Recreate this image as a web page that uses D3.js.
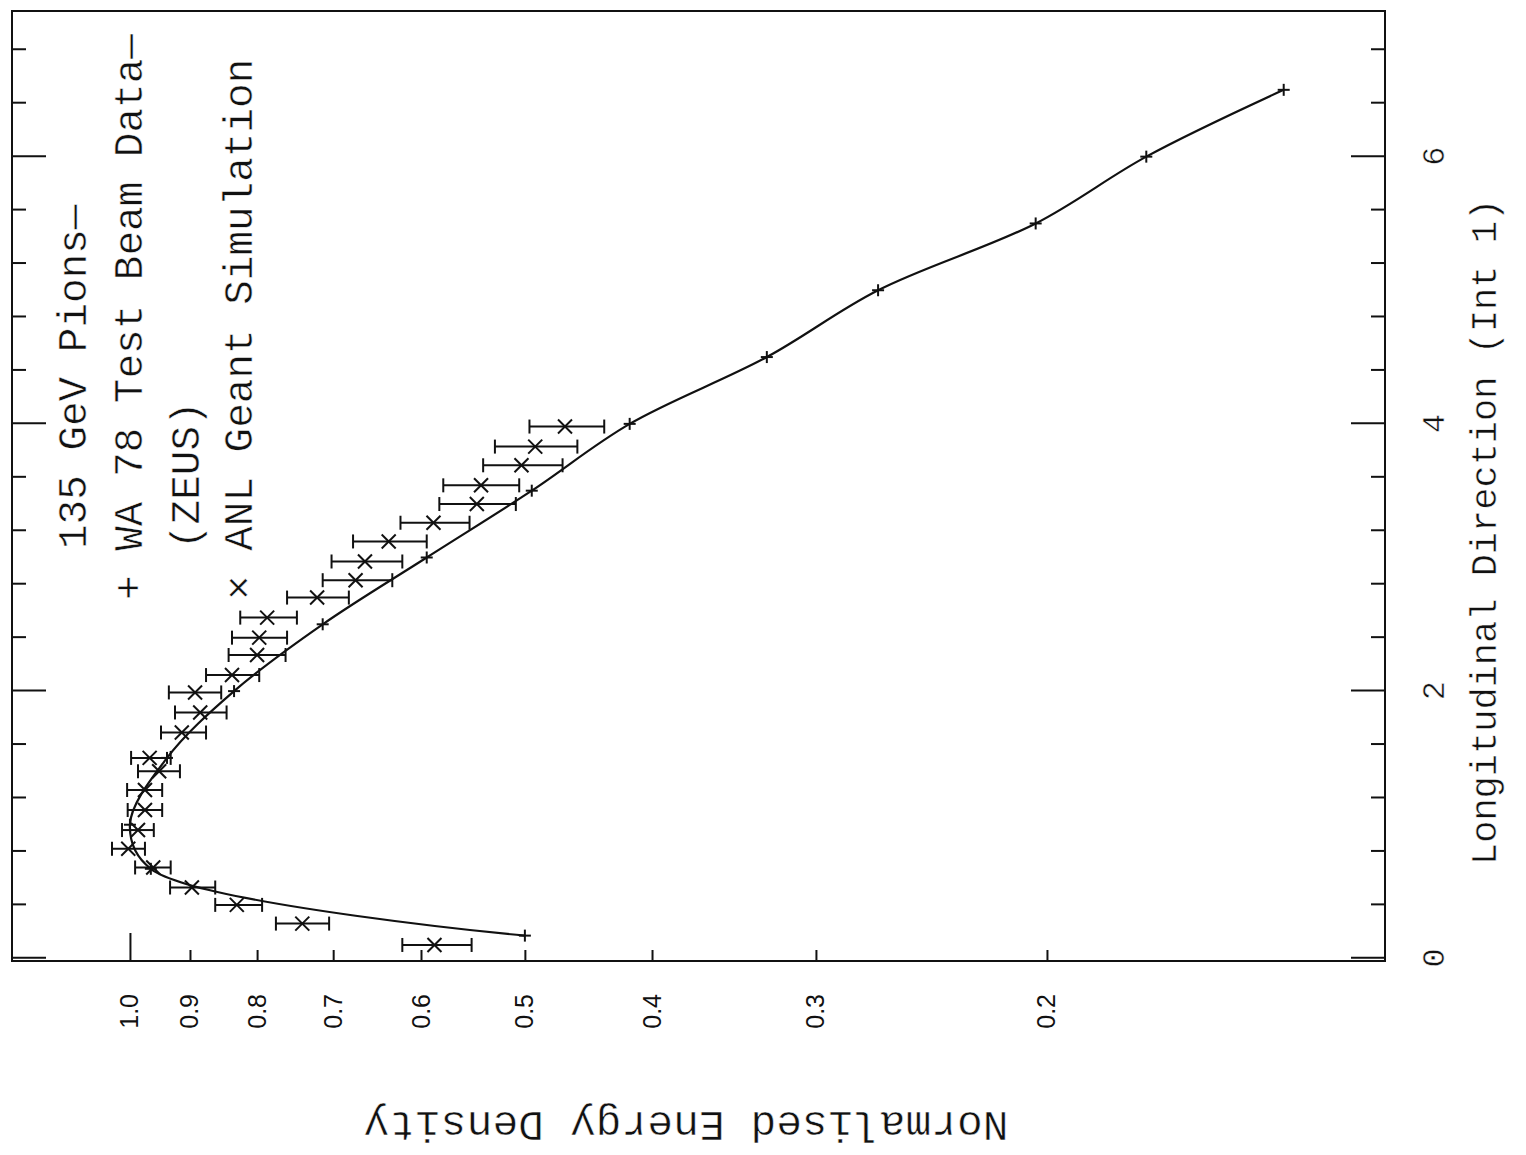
<!DOCTYPE html>
<html>
<head>
<meta charset="utf-8">
<script src="https://cdn.jsdelivr.net/npm/d3@7"></script>
<style>
  html, body { margin: 0; padding: 0; background: #fff; }
  svg { display: block; }
</style>
</head>
<body>
<svg id="chart" width="1526" height="1155"></svg>
<script>
// WA 78 test beam data: longitudinal depth (interaction lengths) and normalised energy density
const beamX = [0.17, 0.67, 1.0, 1.5, 2.0, 2.5, 3.0, 3.5, 4.0, 4.5, 5.0, 5.5, 6.0, 6.5];
const beamY = [0.500, 0.964, 1.000, 0.937, 0.833, 0.713, 0.594, 0.494, 0.416, 0.327, 0.269, 0.204, 0.168, 0.132];

// ANL Geant simulation: depth, value and error-bar limits
const simX  = [0.10, 0.26, 0.40, 0.53, 0.68, 0.82, 0.96, 1.11, 1.26, 1.40, 1.50, 1.69, 1.84, 1.99,
               2.12, 2.27, 2.40, 2.55, 2.70, 2.83, 2.97, 3.12, 3.26, 3.40, 3.54, 3.69, 3.83, 3.98];
const simY  = [0.586, 0.739, 0.829, 0.897, 0.960, 1.003, 0.986, 0.974, 0.974, 0.950, 0.966, 0.913, 0.884, 0.892,
               0.836, 0.800, 0.797, 0.786, 0.720, 0.673, 0.662, 0.635, 0.587, 0.544, 0.540, 0.503, 0.491, 0.466];
const simLo = [0.549, 0.705, 0.793, 0.861, 0.931, 0.974, 0.959, 0.945, 0.945, 0.916, 0.931, 0.875, 0.844, 0.852,
               0.797, 0.761, 0.759, 0.746, 0.681, 0.631, 0.620, 0.594, 0.551, 0.508, 0.505, 0.468, 0.456, 0.435];
const simHi = [0.620, 0.774, 0.861, 0.932, 0.991, 1.032, 1.014, 1.004, 1.005, 0.986, 0.998, 0.947, 0.924, 0.934,
               0.875, 0.841, 0.836, 0.824, 0.759, 0.713, 0.702, 0.676, 0.622, 0.581, 0.577, 0.538, 0.527, 0.496];

// Axis ticks
const xMajorTicks = [0, 2, 4, 6];
const xMinorStep = 0.4;
const yTickValues = [1.0, 0.9, 0.8, 0.7, 0.6, 0.5, 0.4, 0.3, 0.2];
const yTickLabels = ["1.0", "0.9", "0.8", "0.7", "0.6", "0.5", "0.4", "0.3", "0.2"];

// Legend / titles
const titleLine   = "135 GeV Pions\u2014";
const beamLabel   = "+ WA 78 Test Beam Data\u2014";
const beamSubLine = "(ZEUS)";
const simLabel    = "\u00d7 ANL Geant Simulation";
const xTitle = "Longitudinal Direction (Int 1)";
const yTitle = "Normalised Energy Density";

(function draw() {
  const W = 1526, H = 1155;
  const MONO = "'Liberation Mono', 'DejaVu Sans Mono', monospace";
  const SANS = "'Liberation Sans', Arial, sans-serif";

  const svg = d3.select("#chart");
  svg.append("rect").attr("width", W).attr("height", H).attr("fill", "#fff");

  // The plot is laid out in portrait form and turned a quarter-turn anticlockwise on the page.
  const g = svg.append("g").attr("transform", `translate(0,${H}) rotate(-90)`);

  // plot frame in the turned coordinate system
  const fLeft = 194, fRight = 1144, fTop = 12, fBottom = 1385;

  const x = d3.scaleLinear().domain([-0.02, 7.09]).range([fLeft, fRight]);
  const y = d3.scaleLog().domain([0.1105, 1.23]).range([fBottom, fTop]);

  const ink = "#111";

  // thin white outline over the glyphs gives a lighter typewriter stroke
  const lightText = sel => sel.attr("stroke", "#fff").attr("stroke-width", 0.5);

  // frame
  g.append("rect")
    .attr("x", fLeft).attr("y", fTop)
    .attr("width", fRight - fLeft).attr("height", fBottom - fTop)
    .attr("fill", "none").attr("stroke", ink).attr("stroke-width", 2);

  const minorTicks = d3.range(0, 7.1, xMinorStep)
    .filter(v => !xMajorTicks.some(m => Math.abs(m - v) < 1e-6));

  function styleAxis(sel) {
    sel.select(".domain").remove();
    sel.selectAll(".tick line").attr("stroke", ink).attr("stroke-width", 2);
  }

  // bottom x axis (major with labels, minor without)
  g.append("g").attr("transform", `translate(0,${fBottom})`)
    .call(d3.axisBottom(x).tickValues(xMajorTicks).tickSize(-34).tickPadding(36).tickFormat(d3.format("d")))
    .call(styleAxis)
    .call(s => s.selectAll("text").attr("font-family", MONO).attr("font-size", 32).attr("fill", ink).call(lightText));
  g.append("g").attr("transform", `translate(0,${fBottom})`)
    .call(d3.axisBottom(x).tickValues(minorTicks).tickSize(-14).tickFormat(""))
    .call(styleAxis);

  // top x axis mirror ticks
  g.append("g").attr("transform", `translate(0,${fTop})`)
    .call(d3.axisTop(x).tickValues(xMajorTicks).tickSize(-34).tickFormat(""))
    .call(styleAxis);
  g.append("g").attr("transform", `translate(0,${fTop})`)
    .call(d3.axisTop(x).tickValues(minorTicks).tickSize(-14).tickFormat(""))
    .call(styleAxis);

  // left y axis (logarithmic)
  g.append("g").attr("transform", `translate(${fLeft},0)`)
    .call(d3.axisLeft(y).tickValues(yTickValues).tickSize(-11).tickPadding(33)
          .tickFormat((d, i) => yTickLabels[i]))
    .call(styleAxis)
    .call(s => s.selectAll(".tick line").attr("x2", d => d === 1.0 ? 28 : 11))
    .call(s => s.selectAll("text").attr("font-family", SANS).attr("font-size", 25).attr("fill", ink));

  // test beam curve
  const beam = beamX.map((v, i) => [v, beamY[i]]);
  g.append("path")
    .datum(beam)
    .attr("fill", "none").attr("stroke", ink).attr("stroke-width", 2.2)
    .attr("d", d3.line().x(d => x(d[0])).y(d => y(d[1])).curve(d3.curveCatmullRom.alpha(0.5)));

  // + markers
  const plus = g.append("g").attr("stroke", ink).attr("stroke-width", 2);
  beam.forEach(([bx, by]) => {
    const px = x(bx), py = y(by), s = 6;
    plus.append("line").attr("x1", px - s).attr("x2", px + s).attr("y1", py).attr("y2", py);
    plus.append("line").attr("x1", px).attr("x2", px).attr("y1", py - s).attr("y2", py + s);
  });

  // simulation points with error bars
  const sim = g.append("g").attr("stroke", ink).attr("stroke-width", 2).attr("fill", "none");
  simX.forEach((sx, i) => {
    const px = x(sx), py = y(simY[i]), pl = y(simLo[i]), ph = y(simHi[i]);
    const cap = 7, s = 7;
    sim.append("line").attr("x1", px).attr("x2", px).attr("y1", pl).attr("y2", ph);
    sim.append("line").attr("x1", px - cap).attr("x2", px + cap).attr("y1", pl).attr("y2", pl);
    sim.append("line").attr("x1", px - cap).attr("x2", px + cap).attr("y1", ph).attr("y2", ph);
    sim.append("line").attr("x1", px - s).attr("x2", px + s).attr("y1", py - s).attr("y2", py + s);
    sim.append("line").attr("x1", px - s).attr("x2", px + s).attr("y1", py + s).attr("y2", py - s);
  });

  // legend
  const legend = g.append("g").attr("font-family", MONO).attr("font-size", 41).attr("fill", ink).call(lightText);
  legend.append("text").attr("x", 606).attr("y", 86).text(titleLine);
  legend.append("text").attr("x", 555).attr("y", 142).text(beamLabel);
  legend.append("text").attr("x", 606).attr("y", 199).text(beamSubLine);
  legend.append("text").attr("x", 555).attr("y", 252).text(simLabel);

  // axis titles
  g.append("text")
    .attr("x", 290).attr("y", 1496)
    .attr("font-family", MONO).attr("font-size", 37).attr("fill", ink)
    .call(lightText)
    .text(xTitle);

  g.append("text")
    .attr("transform", `translate(43,686) rotate(-90)`)
    .attr("text-anchor", "middle")
    .attr("font-family", MONO).attr("font-size", 43).attr("fill", ink)
    .call(lightText)
    .text(yTitle);
})();
</script>
</body>
</html>
